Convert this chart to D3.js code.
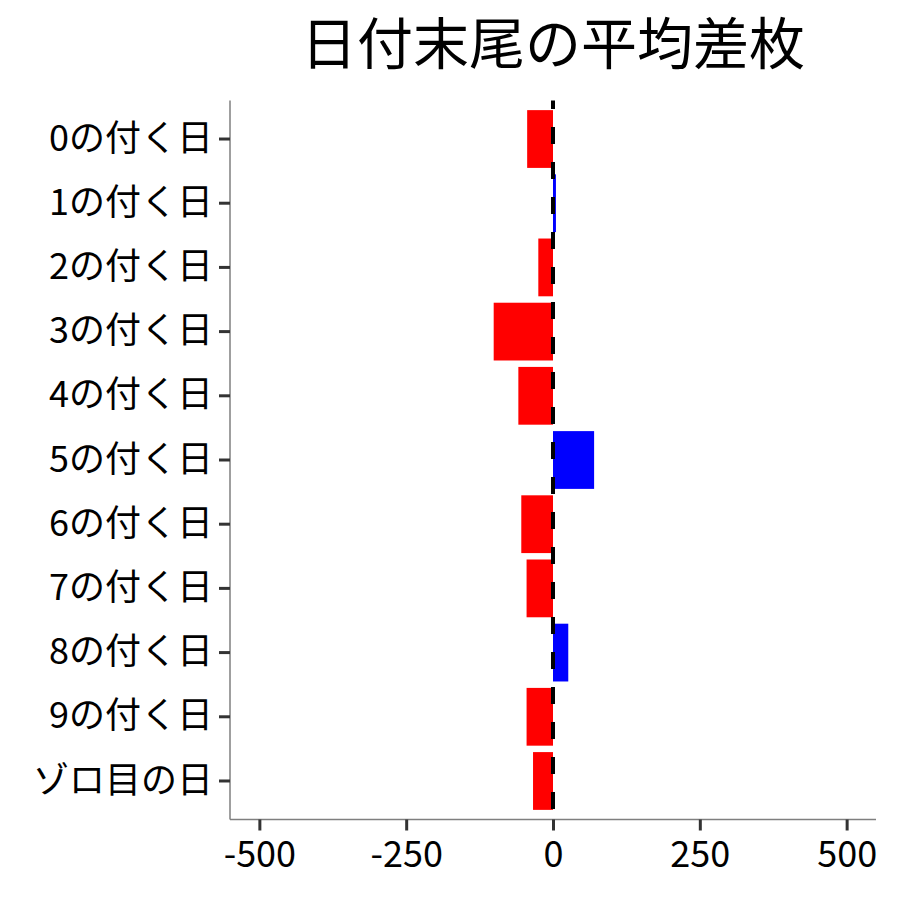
<!DOCTYPE html>
<html><head><meta charset="utf-8">
<script src="https://cdn.jsdelivr.net/npm/d3@7"></script>
<style>body{margin:0;background:#fff}svg{display:block}text{font-family:"Noto Sans CJK JP","Noto Sans",sans-serif}</style>
</head><body>
<svg id="c" width="900" height="900"></svg>
<script>
const categories = ["0の付く日","1の付く日","2の付く日","3の付く日","4の付く日","5の付く日","6の付く日","7の付く日","8の付く日","9の付く日","ゾロ目の日"];
const values = [-44, 5, -25, -101, -59, 70, -54, -45, 26, -45, -34];
const xTicks = [-500, -250, 0, 250, 500];
const title = "日付末尾の平均差枚";

const svg = d3.select("#c");
const L = 230, R = 876, T = 100.5, B = 819.5;
const x = d3.scaleLinear().domain([-550, 550]).range([L, R]);
const y = d3.scaleBand().domain(categories).range([T, B]).paddingInner(0.1).paddingOuter(0.15);

svg.append("text").attr("x", (L + R) / 2).attr("y", 64).attr("text-anchor", "middle")
  .attr("font-size", 56).attr("fill", "#000").text(title);

svg.append("g").selectAll("rect").data(values).join("rect")
  .attr("x", d => x(Math.min(0, d)))
  .attr("width", d => Math.abs(x(d) - x(0)))
  .attr("y", (d, i) => y(categories[i]))
  .attr("height", y.bandwidth())
  .attr("fill", d => d < 0 ? "#FF0000" : "#0000FF");

svg.append("line").attr("x1", x(0)).attr("x2", x(0)).attr("y1", T).attr("y2", B)
  .attr("stroke", "#000").attr("stroke-width", 4)
  .attr("stroke-dasharray", "17,18").attr("stroke-dashoffset", 8.5);

const xAxis = svg.append("g").attr("transform", `translate(0,${B})`)
  .call(d3.axisBottom(x).tickValues(xTicks).tickSize(11).tickPadding(11).tickFormat(d => String(d)));
const yAxis = svg.append("g").attr("transform", `translate(${L},0)`)
  .call(d3.axisLeft(y).tickSize(11).tickPadding(6));
[xAxis, yAxis].forEach(g => {
  g.select(".domain").attr("stroke", "#7f7f7f").attr("stroke-width", 1.5);
  g.selectAll(".tick line").attr("stroke", "#333").attr("stroke-width", 3);
  g.selectAll(".tick text").attr("fill", "#000").attr("font-size", 36)
    .attr("font-family", '"Noto Sans CJK JP","Noto Sans",sans-serif');
});
xAxis.select(".domain").attr("d", `M${L},0H${R}`);
yAxis.select(".domain").attr("d", `M0,${T}V${B}`);
</script>
</body></html>
